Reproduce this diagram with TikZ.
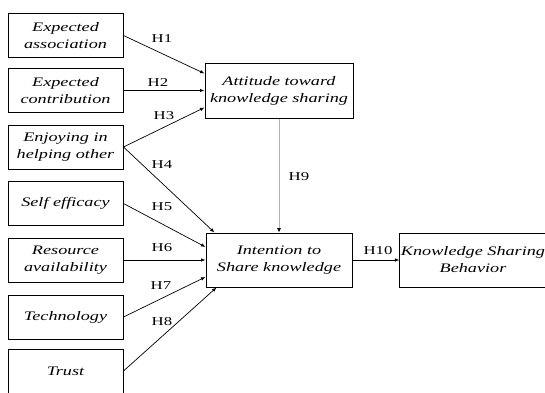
\documentclass[tikz,border=0pt]{standalone}
\usepackage{fontspec}
\setmainfont{Liberation Serif}[FakeStretch=1.4]
\usetikzlibrary{arrows.meta}

\begin{document}
\begin{tikzpicture}[x=1pt,y=-1pt,
  factor/.style={draw,line width=1pt,minimum width=115pt,minimum height=44pt,
    align=center,inner sep=1pt,font=\fontsize{13}{17}\selectfont\itshape},
  outcome/.style={factor,minimum height=54pt},
  hyp/.style={inner sep=0pt,font=\fontsize{12}{14}\selectfont},
  conn/.style={-{Latex[length=4.5pt,width=3.5pt]},line width=0.7pt}]
  \useasboundingbox (0,0) rectangle (545,392);

  % antecedent factors (left column)
  \foreach \nm/\yy/\txt in {assoc/35.5/{Expected\\association},
      contrib/90.5/{Expected\\contribution},
      enjoy/147/{Enjoying in\\helping other},
      selfeff/203.5/{Self efficacy},
      resource/260/{Resource\\availability},
      tech/317/{Technology},
      trust/371/{Trust}}{
    \node[factor] (\nm) at (65.5,\yy) {\txt};
  }

  % attitude, intention and behaviour
  \node[outcome,minimum width=148pt,minimum height=55pt] (attitude) at (279,90.5)
    {Attitude toward\\knowledge sharing};
  \node[outcome,minimum width=146pt] (intention) at (279,260)
    {Intention to\\Share knowledge};
  \node[outcome,minimum width=142pt] (ksb) at (473,260)
    {Knowledge Sharing\\Behavior};

  % paths to attitude
  \draw[conn] (assoc.east) -- ([yshift=17pt]attitude.west);
  \draw[conn] (contrib.east) -- (attitude.west);
  \draw[conn] (enjoy.east) -- ([yshift=-17pt]attitude.west);

  % paths to intention
  \draw[conn] (enjoy.east) -- ([xshift=9pt]intention.north west);
  \draw[conn] (selfeff.east) -- ([yshift=13pt]intention.west);
  \draw[conn] (resource.east) -- (intention.west);
  \draw[conn] (tech.east) -- ([yshift=-17pt]intention.west);
  \draw[conn] (trust.east) -- ([xshift=11pt]intention.south west);
  \draw[conn,black!30,-{Latex[length=4.5pt,width=4pt,color=black]}]
    (attitude.south) -- (intention.north);
  \draw[conn] (intention.east) -- (ksb.west);

  % hypothesis labels
  \foreach \lab/\lx/\ly in {H1/162/39,H2/158/83,H3/164/116,H4/162/165,
      H5/162/207,H6/162/248,H7/161/286,H8/162/322,H9/299/177,H10/378/251}{
    \node[hyp] (\lab) at (\lx,\ly) {\lab};
  }
\end{tikzpicture}
\end{document}
